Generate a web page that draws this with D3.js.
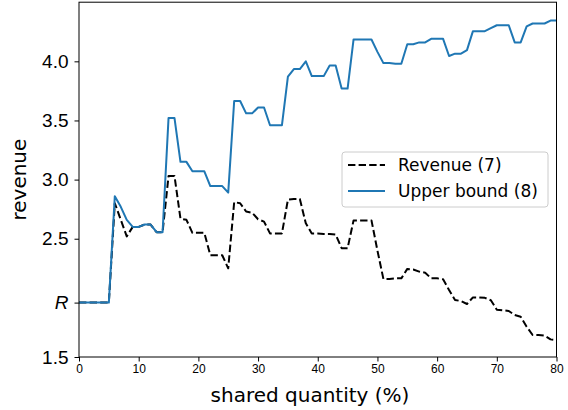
<!DOCTYPE html>
<html>
<head>
<meta charset="utf-8">
<script src="https://cdn.jsdelivr.net/npm/d3@7"></script>
<style>
  body { margin: 0; background: #fff; }
  svg { font-family: "DejaVu Sans", sans-serif; }
</style>
</head>
<body>
<svg id="chart" width="568" height="410"></svg>
<script>
// shared quantity (%)
const share = [0,1,2,3,4,5,6,7,8,9,10,11,12,13,14,15,16,17,18,19,20,
  21,22,23,24,25,26,27,28,29,30,31,32,33,34,35,36,37,38,39,40,
  41,42,43,44,45,46,47,48,49,50,51,52,53,54,55,56,57,58,59,60,
  61,62,63,64,65,66,67,68,69,70,71,72,73,74,75,76,77,78,79,80];

const revenue = [1.96,1.96,1.96,1.96,1.96,1.96,2.80,2.66,2.52,2.60,2.60,
  2.62,2.62,2.555,2.555,3.03,3.03,2.67,2.66,2.55,2.55,
  2.55,2.36,2.36,2.36,2.25,2.81,2.80,2.73,2.72,2.665,
  2.645,2.545,2.545,2.545,2.83,2.835,2.835,2.63,2.545,2.545,
  2.54,2.54,2.535,2.42,2.42,2.655,2.655,2.655,2.655,2.40,
  2.16,2.16,2.165,2.165,2.245,2.24,2.222,2.213,2.165,2.165,
  2.157,2.066,1.982,1.973,1.948,2.004,2.004,2.0,1.98,1.90,
  1.895,1.889,1.855,1.841,1.756,1.686,1.686,1.68,1.649,1.644];

const upper = [1.96,1.96,1.96,1.96,1.96,1.96,2.86,2.77,2.66,2.60,2.60,
  2.62,2.62,2.555,2.555,3.52,3.52,3.15,3.15,3.07,3.07,
  3.07,2.945,2.945,2.945,2.89,3.665,3.665,3.56,3.56,3.61,
  3.61,3.46,3.46,3.46,3.87,3.935,3.935,4.0,3.875,3.875,
  3.875,3.965,3.965,3.77,3.77,4.185,4.185,4.185,4.185,4.08,
  3.985,3.985,3.98,3.98,4.145,4.145,4.16,4.16,4.19,4.19,
  4.19,4.045,4.065,4.065,4.095,4.255,4.255,4.255,4.28,4.305,
  4.305,4.305,4.16,4.16,4.295,4.32,4.32,4.32,4.345,4.345];

const xTicks = [0,10,20,30,40,50,60,70,80];
const yTicks = [1.5, 1.96, 2.5, 3.0, 3.5, 4.0];
const yTickLabels = ["1.5", "R", "2.5", "3.0", "3.5", "4.0"];
const seriesNames = ["Revenue (7)", "Upper bound (8)"];

const svg = d3.select("#chart");
const mLeft = 79, mRight = 556.5, mTop = 2.2, mBottom = 357;

const x = d3.scaleLinear([0, 80], [mLeft, mRight]);
const y = d3.scaleLinear([1.5, 4.5], [mBottom, mTop]);

const line = d3.line().x(d => x(d[0])).y(d => y(d[1]));

const revData = share.map((s, i) => [s, revenue[i]]);
const upData = share.map((s, i) => [s, upper[i]]);

svg.append("path")
  .datum(revData)
  .attr("fill", "none")
  .attr("stroke", "black")
  .attr("stroke-width", 2)
  .attr("stroke-dasharray", "7.4,3.2")
  .attr("stroke-linejoin", "round")
  .attr("d", line);

svg.append("path")
  .datum(upData)
  .attr("fill", "none")
  .attr("stroke", "#1f77b4")
  .attr("stroke-width", 2)
  .attr("stroke-linejoin", "round")
  .attr("d", line);

// axes
const xAxis = svg.append("g")
  .attr("transform", "translate(0," + mBottom + ")")
  .call(d3.axisBottom(x).tickValues(xTicks).tickSize(4.5).tickPadding(3).tickFormat(d3.format("d")));
xAxis.selectAll("text").attr("font-size", 12).attr("fill", "#000");

const yAxis = svg.append("g")
  .attr("transform", "translate(" + mLeft + ",0)")
  .call(d3.axisLeft(y).tickValues(yTicks).tickSize(4.5).tickPadding(6)
    .tickFormat((d, i) => yTickLabels[i]));
yAxis.selectAll("text").attr("font-size", 19).attr("fill", "#000")
  .attr("font-style", (d, i) => yTickLabels[i] === "R" ? "italic" : "normal");

svg.selectAll(".domain").remove();
svg.selectAll(".tick line").attr("stroke", "#000");

// frame
svg.append("rect")
  .attr("x", mLeft).attr("y", mTop)
  .attr("width", mRight - mLeft).attr("height", mBottom - mTop)
  .attr("fill", "none").attr("stroke", "#000").attr("stroke-width", 1);

// labels
svg.append("text")
  .attr("x", 310).attr("y", 402)
  .attr("text-anchor", "middle").attr("font-size", 20)
  .text("shared quantity (%)");

svg.append("text")
  .attr("transform", "translate(26," + ((mTop + mBottom) / 2) + ") rotate(-90)")
  .attr("text-anchor", "middle").attr("font-size", 20)
  .text("revenue");

// legend
const lg = svg.append("g");
lg.append("rect")
  .attr("x", 342).attr("y", 152).attr("width", 206).attr("height", 55)
  .attr("rx", 3)
  .attr("fill", "white").attr("fill-opacity", 0.8)
  .attr("stroke", "#cccccc").attr("stroke-width", 1);

const entries = [
  {name: seriesNames[0], color: "black", dash: "7.4,3.2", ly: 165},
  {name: seriesNames[1], color: "#1f77b4", dash: null, ly: 191}
];
entries.forEach(e => {
  lg.append("line")
    .attr("x1", 348).attr("x2", 385).attr("y1", e.ly).attr("y2", e.ly)
    .attr("stroke", e.color).attr("stroke-width", 2)
    .attr("stroke-dasharray", e.dash);
  lg.append("text")
    .attr("x", 398).attr("y", e.ly).attr("dy", "0.35em")
    .attr("font-size", 17).attr("fill", "#000")
    .text(e.name);
});
</script>
</body>
</html>
